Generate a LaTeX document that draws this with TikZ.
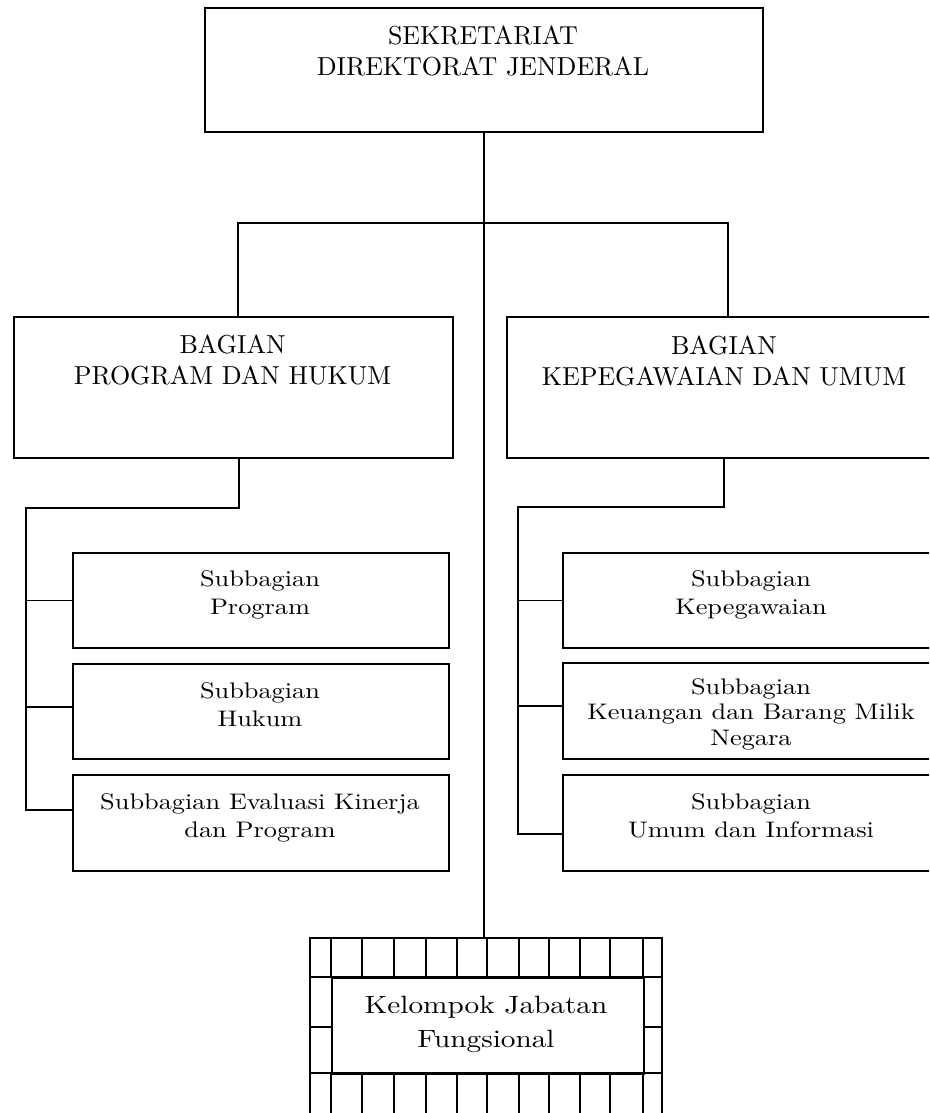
\documentclass[tikz,border=0pt]{standalone}
\usepackage{fontspec}
\setmainfont{lmroman10-regular.otf}[FakeStretch=1.17]
\newfontfamily\capsfont{lmroman10-regular.otf}
\begin{document}
\begin{tikzpicture}[x=1pt, y=-1pt, line width=1.8pt,
  box/.style={draw, rectangle, inner sep=0pt, anchor=north west},
  caps/.style={font=\capsfont\fontsize{26}{30.5}\selectfont, align=center, anchor=north, inner sep=0pt},
  lower/.style={font=\fontsize{22.5}{28}\selectfont, align=center, anchor=north, inner sep=0pt},
  tile/.style={line width=1.5pt}
]
\useasboundingbox (0,0) rectangle (929,1113);
\clip (0,0) rectangle (929,1113);

% head of the secretariat
\node[box, minimum width=558, minimum height=124] (sdj) at (204,7) {};
\node[caps] (sdjT) at (483,25) {SEKRETARIAT\\DIREKTORAT JENDERAL};

% the two divisions
\node[box, minimum width=439, minimum height=141] (bph) at (13,316) {};
\node[caps] (bphT) at (232.5,334) {BAGIAN\\PROGRAM DAN HUKUM};
\node[box, minimum width=436, minimum height=141] (bku) at (506,316) {};
\node[caps] (bkuT) at (724,335) {BAGIAN\\KEPEGAWAIAN DAN UMUM};

% subdivisions, left column
\node[box, minimum width=376, minimum height=95] (sp1) at (72,552) {};
\node[lower] (sp1T) at (260,569.4) {Subbagian\\Program};
\node[box, minimum width=376, minimum height=95] (sp2) at (72,663) {};
\node[lower] (sp2T) at (260,681.4) {Subbagian\\Hukum};
\node[box, minimum width=376, minimum height=96] (sp3) at (72,774) {};
\node[lower] (sp3T) at (260,792.4) {Subbagian Evaluasi Kinerja\\dan Program};

% subdivisions, right column
\node[box, minimum width=378, minimum height=95] (sk1) at (562,552) {};
\node[lower] (sk1T) at (751,569.4) {Subbagian\\Kepegawaian};
\node[box, minimum width=378, minimum height=96] (sk2) at (562,662) {};
\node[lower, font=\fontsize{22.5}{25.5}\selectfont] (sk2T) at (751,677.4) {Subbagian\\Keuangan dan Barang Milik\\Negara};
\node[box, minimum width=378, minimum height=96] (sk3) at (562,774) {};
\node[lower] (sk3T) at (751,792.4) {Subbagian\\Umum dan Informasi};

% functional group with its tiled frame
\node[box, minimum width=352, minimum height=200] (kjfFrame) at (309,937) {};
\node[box, line width=2pt, minimum width=312, minimum height=96] (kjf) at (331,977) {};
\node[lower, font=\fontsize{25}{34}\selectfont] (kjfT) at (486,995) {Kelompok Jabatan\\Fungsional};
\draw[tile] (309,977) -- (661,977) (309,1073) -- (661,1073);
\foreach \x in {331,362,394,426,457,487,519,549,580,610,643} {
  \draw[tile] (\x,937) -- (\x,977);
  \draw[tile] (\x,1073) -- (\x,1137);
}
\draw[tile] (309,1027) -- (kjf.west |- 0,1027);
\draw[tile] (kjf.east |- 0,1027) -- (661,1027);

% main line and the branch to both divisions
\draw (sdj.south) -- (sdj.south |- kjfFrame.north);
\draw ([xshift=4.5pt]bph.north) |- (sdj.south |- 0,223) -| ([xshift=3pt]bku.north);

% left spine
\coordinate (lspine) at (26,508);
\draw ([xshift=5.5pt]bph.south) |- (lspine) |- ([yshift=13pt]sp3.west);
\draw (lspine |- sp1.west) -- (sp1.west);
\draw ([yshift=4.5pt]sp2.west -| lspine) -- ([yshift=4.5pt]sp2.west);

% right spine
\coordinate (rspine) at (518,507);
\draw ([xshift=-1pt]bku.south) |- (rspine) |- ([yshift=-11pt]sk3.west);
\draw (rspine |- sk1.west) -- (sk1.west);
\draw ([yshift=5pt]sk2.west -| rspine) -- ([yshift=5pt]sk2.west);
\end{tikzpicture}
\end{document}
